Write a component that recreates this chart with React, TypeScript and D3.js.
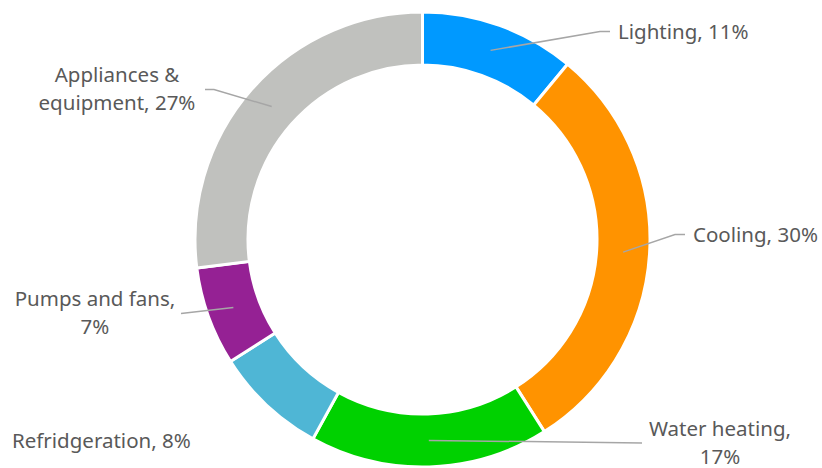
import React from "react";
import * as d3 from "d3";

const categories = ["Lighting", "Cooling", "Water heating", "Refridgeration", "Pumps and fans", "Appliances & equipment"];
const values = [11, 30, 17, 8, 7, 27];
const colors = ["#0099FF", "#FF9300", "#00D100", "#4FB6D5", "#952194", "#C0C1BE"];
const labelLines = [
  ["Lighting, 11%"],
  ["Cooling, 30%"],
  ["Water heating,", "17%"],
  ["Refridgeration, 8%"],
  ["Pumps and fans,", "7%"],
  ["Appliances &", "equipment, 27%"],
];

const W = 822;
const H = 468;
const cx = 422.5;
const cy = 239.5;
const rOuter = 227.5;
const rInner = 174.5;

// label layout: text anchor point, alignment, leader elbow and end
const labelLayout = [
  { x: 618, y: 33, anchor: "start", elbow: [600, 31.5], end: [610, 31.5] },
  { x: 693, y: 236, anchor: "start", elbow: [675, 234.5], end: [685, 234.5] },
  { x: 720, y: 430, anchor: "middle", elbow: [642, 443], end: [642, 443] },
  { x: 12, y: 442, anchor: "start", elbow: null, end: null },
  { x: 95, y: 300, anchor: "middle", elbow: [181, 313.5], end: [181, 313.5] },
  { x: 117, y: 76, anchor: "middle", elbow: [214, 89.5], end: [205, 89.5] },
];

export default function App() {
  const pie = d3.pie<number>().sort(null).value((d) => d)(values);
  const arc = d3.arc<d3.PieArcDatum<number>>().innerRadius(rInner).outerRadius(rOuter);
  const midR = (rInner + rOuter) / 2;
  return (
    <svg width={W} height={H} style={{ position: "absolute", left: 0, top: 0, background: "#fff" }}>
      <g transform={`translate(${cx},${cy})`}>
        {pie.map((p, i) => (
          <path key={i} d={arc(p) || ""} fill={colors[i]} stroke="#fff" strokeWidth={3} />
        ))}
      </g>
      {pie.map((p, i) => {
        const L = labelLayout[i];
        if (!L.elbow) return null;
        const a = (p.startAngle + p.endAngle) / 2;
        const sx = cx + midR * Math.sin(a);
        const sy = cy - midR * Math.cos(a);
        const pts = [[sx, sy], L.elbow, L.end];
        return (
          <polyline
            key={"l" + i}
            points={pts.map((q) => q.join(",")).join(" ")}
            fill="none"
            stroke="#A6A6A6"
            strokeWidth={1.5}
          />
        );
      })}
      {labelLines.map((lines, i) => {
        const L = labelLayout[i];
        return (
          <text
            key={"t" + i}
            x={L.x}
            y={L.y}
            textAnchor={L.anchor as any}
            fill="#595959"
            fontFamily="'Noto Sans', sans-serif"
            fontSize={20.5}
            dominantBaseline="middle"
          >
            {lines.map((s, j) => (
              <tspan key={j} x={L.x} dy={j === 0 ? 0 : 28}>
                {s}
              </tspan>
            ))}
          </text>
        );
      })}
    </svg>
  );
}
